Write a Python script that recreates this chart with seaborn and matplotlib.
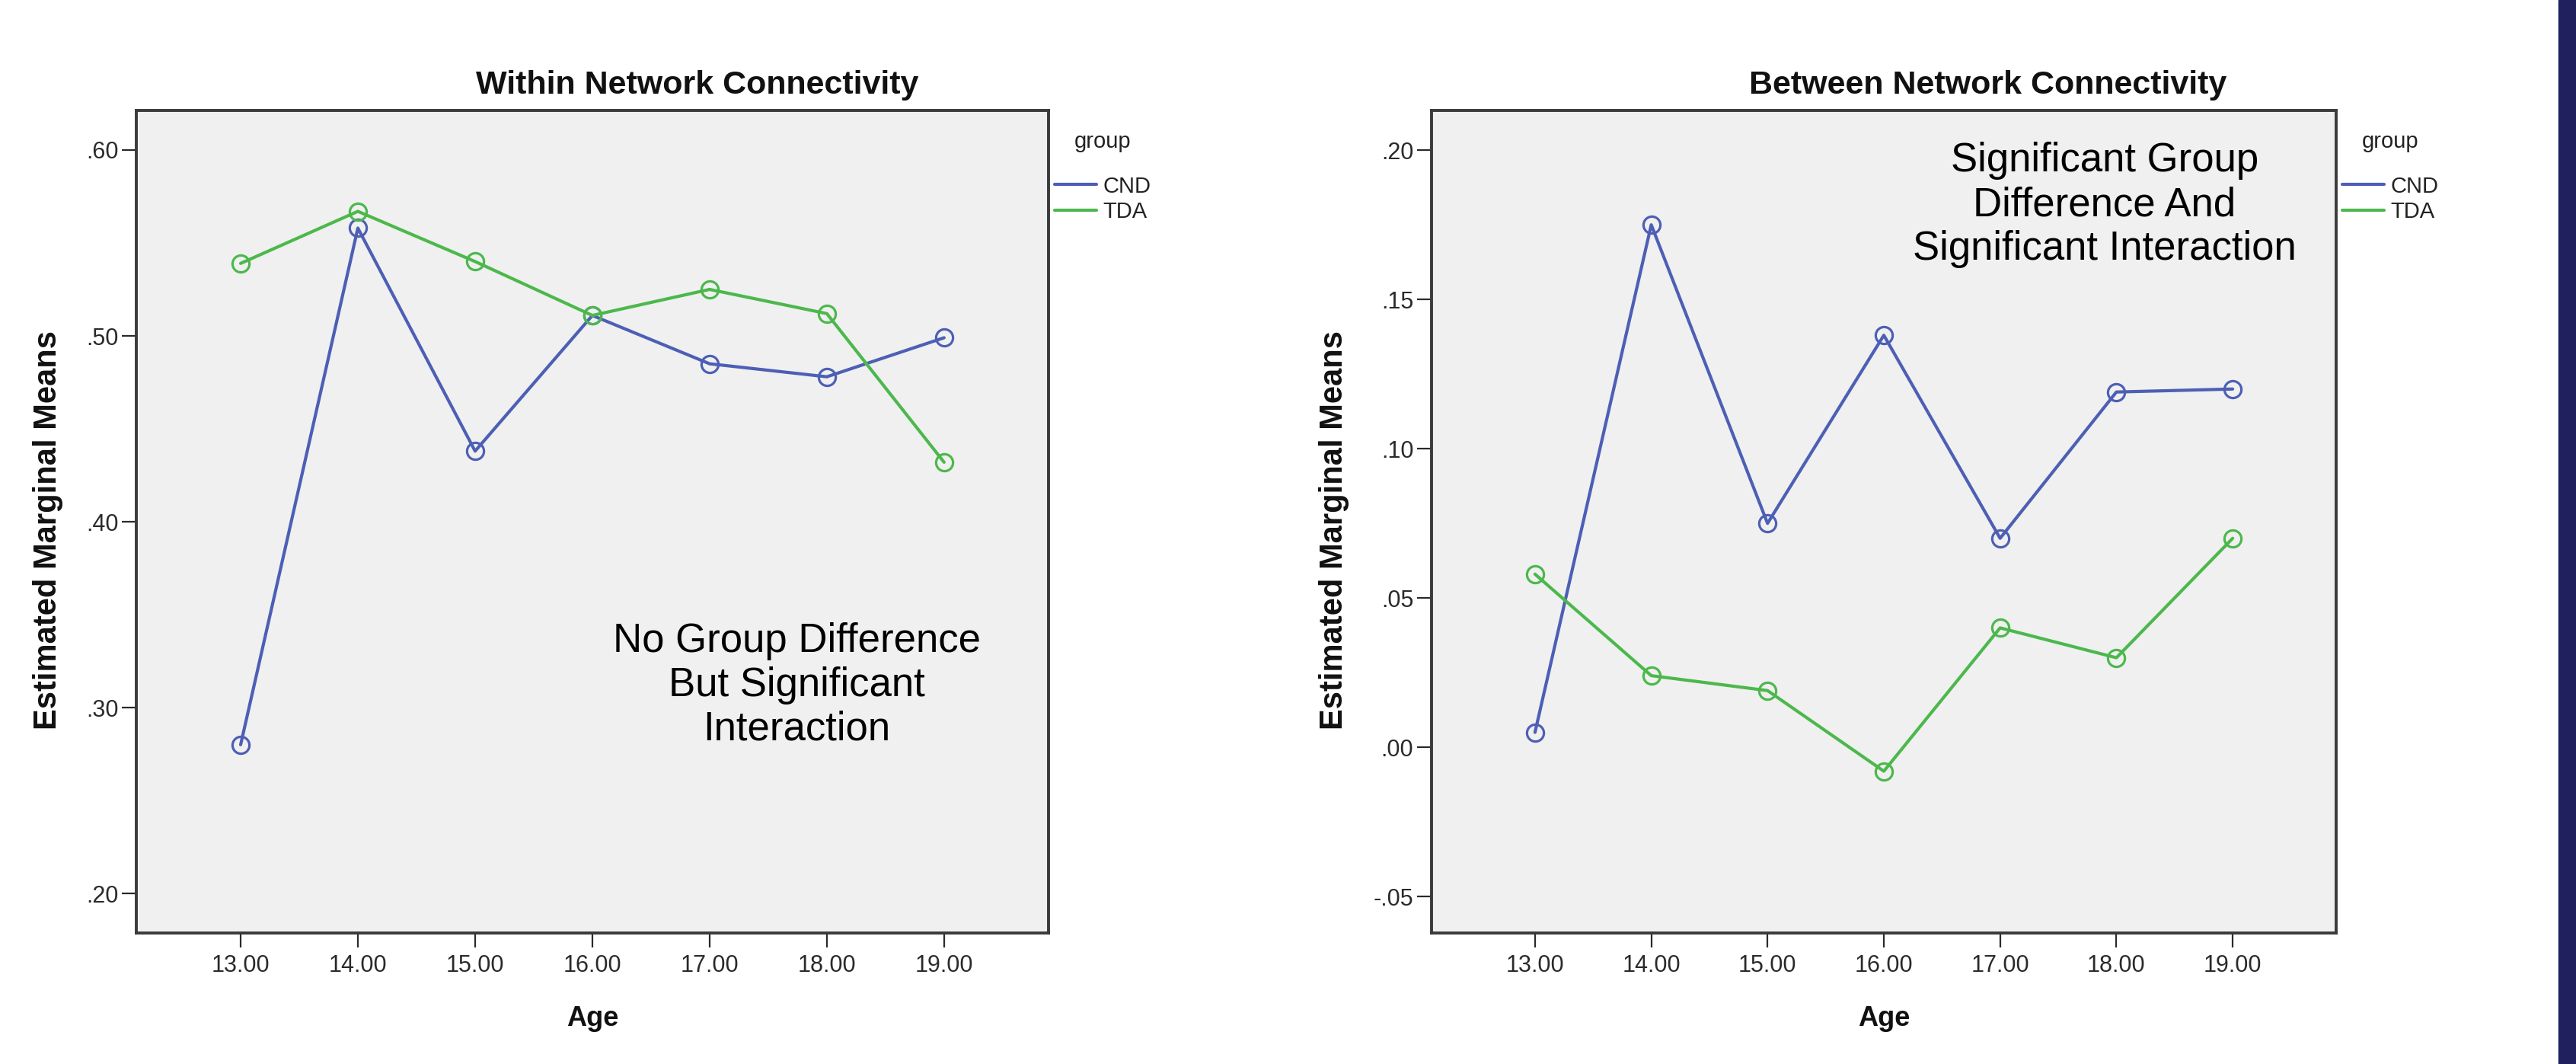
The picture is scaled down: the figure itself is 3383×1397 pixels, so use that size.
import pandas as pd
import seaborn as sns
import matplotlib.pyplot as plt
from matplotlib.lines import Line2D
from matplotlib.patches import Rectangle
from matplotlib.ticker import FuncFormatter

# valores
idades = [13, 14, 15, 16, 17, 18, 19]
grupos = ['CND', 'TDA']
within_cnd = [0.280, 0.558, 0.438, 0.511, 0.485, 0.478, 0.499]
within_tda = [0.539, 0.567, 0.540, 0.511, 0.525, 0.512, 0.432]
between_cnd = [0.005, 0.175, 0.075, 0.138, 0.070, 0.119, 0.120]
between_tda = [0.058, 0.024, 0.019, -0.008, 0.040, 0.030, 0.070]

yticks_within = [0.20, 0.30, 0.40, 0.50, 0.60]
yticks_between = [-0.05, 0.00, 0.05, 0.10, 0.15, 0.20]

cores = {'CND': '#4d5fb5', 'TDA': '#4cb84c'}


def montar_df(cnd, tda):
    linhas = []
    for g, vals in zip(grupos, [cnd, tda]):
        for a, v in zip(idades, vals):
            linhas.append({'Age': a, 'group': g, 'valor': v})
    return pd.DataFrame(linhas)


sns.set_theme(style='white')
plt.rcParams['font.family'] = ['Liberation Sans', 'DejaVu Sans']

fig = plt.figure(figsize=(33.83, 13.97), dpi=100)
ax1 = fig.add_axes([0.0529, 0.1231, 0.3541, 0.7731])
ax2 = fig.add_axes([0.5557, 0.1231, 0.3512, 0.7731])

fmt_y = FuncFormatter(lambda v, p: ('%.2f' % v).replace('0.', '.'))

paineis = [
    (ax1, montar_df(within_cnd, within_tda), 'Within Network Connectivity', yticks_within,
     (0.1787, 0.6213), 'No Group Difference\nBut Significant\nInteraction', (0.724, 0.301), -0.0964),
    (ax2, montar_df(between_cnd, between_tda), 'Between Network Connectivity', yticks_between,
     (-0.0622, 0.2133), 'Significant Group\nDifference And\nSignificant Interaction', (0.744, 0.885), -0.1077),
]

for ax, df, titulo, yt, ylim, nota, pos_nota, x_ylabel in paineis:
    sns.lineplot(data=df, x='Age', y='valor', hue='group', palette=cores, marker='o',
                 errorbar=None, legend=False, linewidth=3.0, markersize=16, ax=ax)
    for ln in ax.get_lines():
        c = ln.get_color()
        ln.set_markerfacecolor('none')
        ln.set_markeredgecolor(c)
        ln.set_markeredgewidth(2.3)

    ax.set_facecolor('#f0f0f0')
    for s in ax.spines.values():
        s.set_visible(True)
        s.set_color('#3a3a3a')
        s.set_linewidth(2.8)

    ax.set_xlim(12.11, 19.89)
    ax.set_ylim(*ylim)
    ax.set_xticks(idades)
    ax.set_xticklabels(['%.2f' % a for a in idades])
    ax.set_yticks(yt)
    ax.yaxis.set_major_formatter(fmt_y)
    ax.tick_params(axis='both', direction='out', length=14, width=1.6, colors='#2a2a2a',
                   labelsize=22, bottom=True, left=True, top=False, right=False)
    ax.tick_params(axis='x', pad=6)
    ax.tick_params(axis='y', pad=3)
    ax.set_xlabel('')
    ax.set_ylabel('')

    ax.text(0.615, 1.0306, titulo, transform=ax.transAxes, ha='center', va='center',
            fontsize=31, fontweight='bold', color='#111111')
    ax.text(x_ylabel, 0.49, 'Estimated Marginal Means', transform=ax.transAxes, rotation=90,
            ha='center', va='center', fontsize=30, fontweight='bold', color='#111111')
    ax.text(0.5, -0.1037, 'Age', transform=ax.transAxes, ha='center', va='center',
            fontsize=26, fontweight='bold', color='#111111')
    ax.text(pos_nota[0], pos_nota[1], nota, transform=ax.transAxes, ha='center', va='center',
            fontsize=38, color='black', linespacing=1.2)

    handles = [Line2D([], [], color=cores[g], lw=3.0) for g in grupos]
    leg = ax.legend(handles, grupos, title='group', loc='upper left', bbox_to_anchor=(1.0067, 0.975),
                    frameon=False, fontsize=21, title_fontsize=21, handlelength=1.9,
                    handletextpad=0.28, labelspacing=0.2, borderpad=0, borderaxespad=0)
    leg._legend_box.sep = 22
    for t in leg.get_texts():
        t.set_color('#222222')
    leg.get_title().set_color('#222222')

# faixa azul escura na borda direita
fig.add_artist(Rectangle((3360 / 3383, 0), 23 / 3383, 1, transform=fig.transFigure,
                         color='#20205f', zorder=10))

plt.savefig('out.png', dpi=100)
